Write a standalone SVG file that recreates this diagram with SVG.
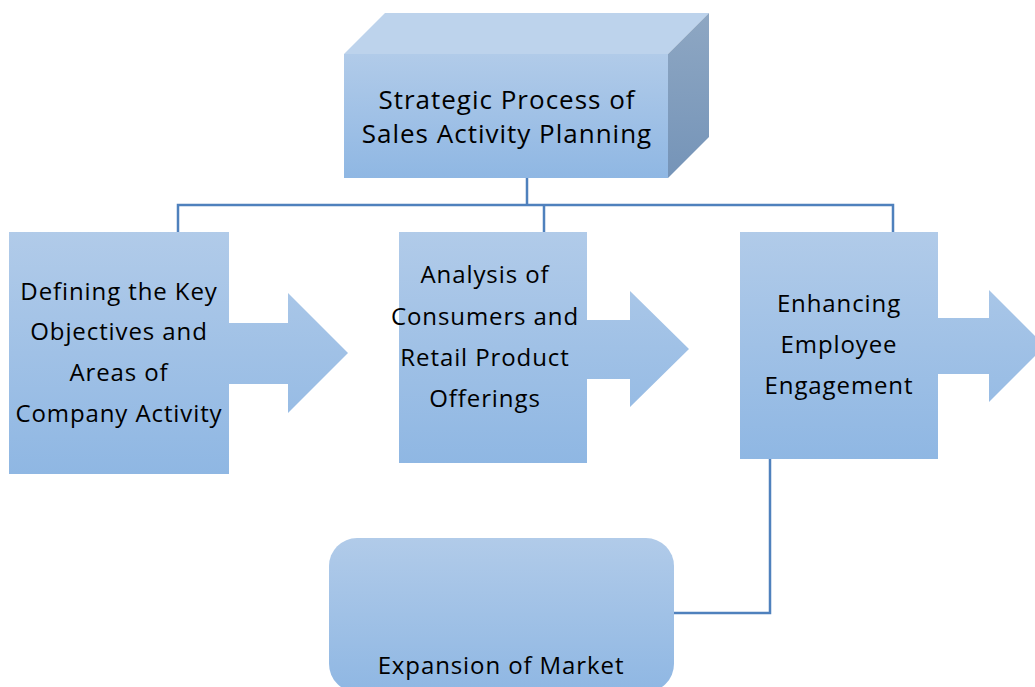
<svg xmlns="http://www.w3.org/2000/svg" width="1035" height="687" viewBox="0 0 1035 687">
<defs>
<linearGradient id="g" x1="0" y1="0" x2="0" y2="1">
<stop offset="0" stop-color="#b1cbe9"/>
<stop offset="1" stop-color="#8fb7e3"/>
</linearGradient>
<linearGradient id="gs" x1="0" y1="0" x2="0" y2="1">
<stop offset="0" stop-color="#8ea7c3"/>
<stop offset="1" stop-color="#7594b8"/>
</linearGradient>
<linearGradient id="gb" x1="0" x2="0" gradientUnits="userSpaceOnUse" y1="538" y2="692">
<stop offset="0" stop-color="#b1cbe9"/>
<stop offset="1" stop-color="#8fb7e3"/>
</linearGradient>
</defs>
<style>
.t{font-family:"Open Sans","Liberation Sans",sans-serif;font-size:24px;letter-spacing:0.9px;fill:#000;text-anchor:middle}
.tt{font-family:"Open Sans","Liberation Sans",sans-serif;font-size:26px;letter-spacing:1px;fill:#000;text-anchor:middle}
.c{fill:none;stroke:#4f81bd;stroke-width:2.5}
</style>
<rect width="1035" height="687" fill="#fff"/>
<g id="connectors">
<path class="c" d="M527 178 V205 M178 232 V205 H893 V232 M544 205 V232"/>
<path class="c" d="M770 459 V613 H674"/>
</g>
<g id="top">
<polygon points="344,54 385,13 709,13 668,54" fill="#bdd3ec"/>
<polygon points="668,54 709,13 709,137 668,178" fill="url(#gs)"/>
<rect x="344" y="54" width="324" height="124" fill="url(#g)"/>
<text class="tt" x="507" y="109">Strategic Process of</text>
<text class="tt" x="507" y="143">Sales Activity Planning</text>
</g>
<g id="n1">
<polygon points="9,232 229,232 229,323 288,323 288,293 348,353 288,413 288,384 229,384 229,474 9,474" fill="url(#g)"/>
<text class="t" x="119" y="300">Defining the Key</text>
<text class="t" x="119" y="340">Objectives and</text>
<text class="t" x="119" y="381">Areas of</text>
<text class="t" x="119" y="422">Company Activity</text>
</g>
<g id="n2">
<polygon points="399,232 587,232 587,320 630,320 630,291 689,349 630,407 630,379 587,379 587,463 399,463" fill="url(#g)"/>
<text class="t" x="485" y="283">Analysis of</text>
<text class="t" x="485" y="325">Consumers and</text>
<text class="t" x="485" y="366">Retail Product</text>
<text class="t" x="485" y="407">Offerings</text>
</g>
<g id="n3">
<polygon points="740,232 938,232 938,318 989,318 989,290 1045,346 989,402 989,374 938,374 938,459 740,459" fill="url(#g)"/>
<text class="t" x="839" y="312">Enhancing</text>
<text class="t" x="839" y="353">Employee</text>
<text class="t" x="839" y="394">Engagement</text>
</g>
<g id="n4">
<rect x="329" y="538" width="345" height="154" rx="28" fill="url(#gb)"/>
<text class="t" x="501" y="674">Expansion of Market</text>
</g>
</svg>
